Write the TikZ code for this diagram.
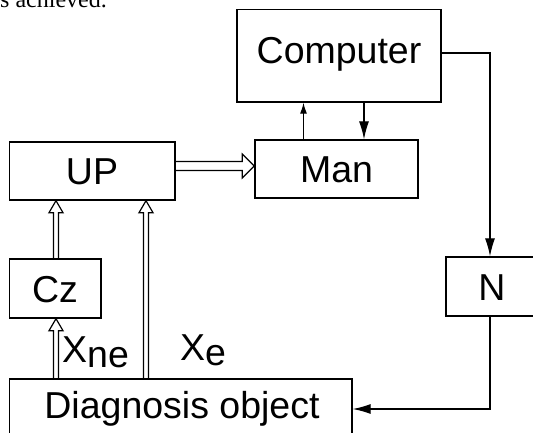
\documentclass[tikz,border=0pt]{standalone}
\usepackage{fontspec}
\setmainfont{Liberation Sans}
\newfontfamily\serifpage{Liberation Serif}
\usetikzlibrary{arrows.meta,calc}
\newcommand{\vdblarrow}[2]{\draw[dbl] ($(#1)+(-2.5,0)$) -- ($(#2)+(-2.5,12)$) -- ($(#2)+(-7,12)$) -- (#2) -- ($(#2)+(7,12)$) -- ($(#2)+(2.5,12)$) -- ($(#1)+(2.5,0)$);}
\begin{document}
\begin{tikzpicture}[x=1pt,y=-1pt,
  box/.style={draw, line width=1.4pt, rectangle, inner sep=0pt},
  lbl/.style={inner sep=0pt, anchor=base, font=\fontsize{37.5}{40}\selectfont},
  conn/.style={line width=1.2pt},
  sarrow/.style={conn, -{Latex[length=18pt,width=10pt]}},
  dbl/.style={line width=1.2pt, line join=miter}]
\useasboundingbox (0,0) rectangle (533,433);
\clip (0,0) rectangle (533,433);
% fragment of surrounding page text
\node[inner sep=0pt, anchor=base west, font=\serifpage\fontsize{24}{26}\selectfont] (pagetext) at (0,7.5) {s achieved.};
% boxes
\node[box, minimum width=204pt, minimum height=92.5pt] (comp) at (339,55.75) {};
\node[box, minimum width=163pt, minimum height=58pt] (man) at (336.5,169) {};
\node[box, minimum width=165.5pt, minimum height=58pt] (up) at (92.25,171) {};
\node[box, minimum width=91.5pt, minimum height=59pt] (cz) at (55.25,288.5) {};
\node[box, minimum width=92pt, minimum height=59pt] (n) at (492,286.5) {};
\node[box, minimum width=342.5pt, minimum height=71pt] (diag) at (180.75,414.5) {};
% texts
\node[lbl] (tcomp) at (339,64) {Computer};
\node[lbl] (tman) at (336.5,182.5) {Man};
\node[lbl] (tup) at (92,184.5) {UP};
\node[lbl] (tcz) at (55,302) {Cz};
\node[lbl] (tn) at (492,300) {N};
\node[lbl] (tdiag) at (182,418) {Diagnosis object};
\node[lbl, anchor=base west] (xne) at (62,362) {X\raisebox{-5pt}{ne}};
\node[lbl, anchor=base west] (xe) at (180,360) {X\raisebox{-5pt}{e}};
% helper coordinates
\coordinate (xup) at (303.5,0);
\coordinate (xdn) at (364,0);
\coordinate (yc) at (0,53);
\coordinate (xr) at (490,0);
\coordinate (yd) at (0,409);
\coordinate (yh) at (0,166);
\coordinate (xl) at (56,0);
\coordinate (xm) at (146,0);
% single arrows
\draw[conn, -{Latex[length=11pt,width=7pt]}] (man.north -| xup) -- (comp.south -| xup);
\draw[sarrow] (comp.south -| xdn) -- (man.north -| xdn);
\draw[sarrow] (comp.east |- yc) -| (n.north -| xr);
\draw[sarrow] (n.south -| xr) |- (diag.east |- yd);
% double (hollow) arrows
\coordinate (czN) at (cz.north -| xl);
\coordinate (czS) at (cz.south -| xl);
\coordinate (upSl) at (up.south -| xl);
\coordinate (upSm) at (up.south -| xm);
\coordinate (diagNl) at (diag.north -| xl);
\coordinate (diagNm) at (diag.north -| xm);
\vdblarrow{czN}{upSl}
\vdblarrow{diagNl}{czS}
\vdblarrow{diagNm}{upSm}
\coordinate (upE) at (up.east |- yh);
\coordinate (manW) at (man.west |- yh);
\draw[dbl] ($(upE)+(0,-4.5)$) -- ($(manW)+(-12,-4.5)$) -- ($(manW)+(-12,-12)$) -- (manW) -- ($(manW)+(-12,12)$) -- ($(manW)+(-12,4.5)$) -- ($(upE)+(0,4.5)$);
\end{tikzpicture}
\end{document}
